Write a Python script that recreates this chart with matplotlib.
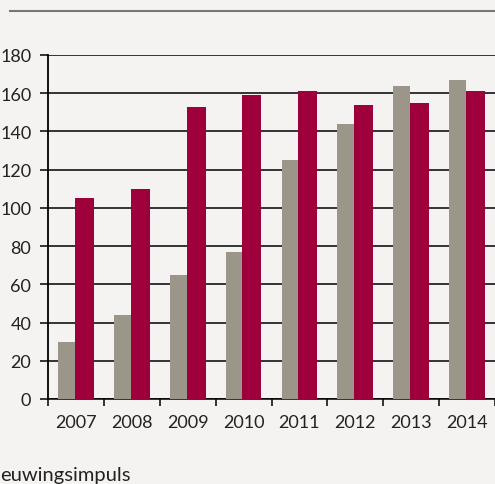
import numpy as np
import matplotlib.pyplot as plt

years = ['2007', '2008', '2009', '2010', '2011', '2012', '2013', '2014']
grey_vals = [30, 44, 65, 77, 125, 144, 164, 167]
red_vals = [105, 110, 153, 159, 161, 154, 155, 161]

bg = '#f4f3f1'
plt.rcParams['font.family'] = ['Lato', 'DejaVu Sans']

fig = plt.figure(figsize=(4.95, 4.85), dpi=100, facecolor=bg)
ax = fig.add_axes([48 / 495, 85 / 485, 447 / 495, 344 / 485])
ax.set_facecolor(bg)

x = np.arange(len(years))
ax.bar(x - 0.32, grey_vals, width=0.30, align='edge', color='#9c968a', zorder=3)
ax.bar(x - 0.02, red_vals, width=0.34, align='edge', color='#9e003c', zorder=3)

ax.set_xlim(-0.5, 7.5)
ax.set_ylim(0, 180)
ax.set_yticks(range(0, 181, 20))
ax.yaxis.grid(True, color='black', linewidth=1.1, zorder=0)
ax.tick_params(axis='y', length=6, width=1.1, pad=6, labelsize=13,
               colors='black', labelcolor='#222222')

# category labels centred, ticks on the boundaries
ax.set_xticks(x)
ax.set_xticklabels(years)
ax.set_xticks(np.arange(-0.5, 8, 1), minor=True)
ax.tick_params(axis='x', which='major', length=0, pad=11, labelsize=13,
               labelcolor='#222222')
ax.tick_params(axis='x', which='minor', length=5, width=1.1)

for side in ['top', 'right']:
    ax.spines[side].set_visible(False)
ax.spines['left'].set_linewidth(1.3)
ax.spines['bottom'].set_linewidth(1.1)

# rule across the top of the panel
fig.add_artist(plt.Line2D([10 / 495, 1], [1 - 12 / 485, 1 - 12 / 485],
                          color='#777777', linewidth=1.5))

fig.text(0, 1 - 476 / 485, 'euwingsimpuls', fontsize=14.5, va='center',
         ha='left', color='#222222')

fig.savefig('out.png', dpi=100, facecolor=bg)
